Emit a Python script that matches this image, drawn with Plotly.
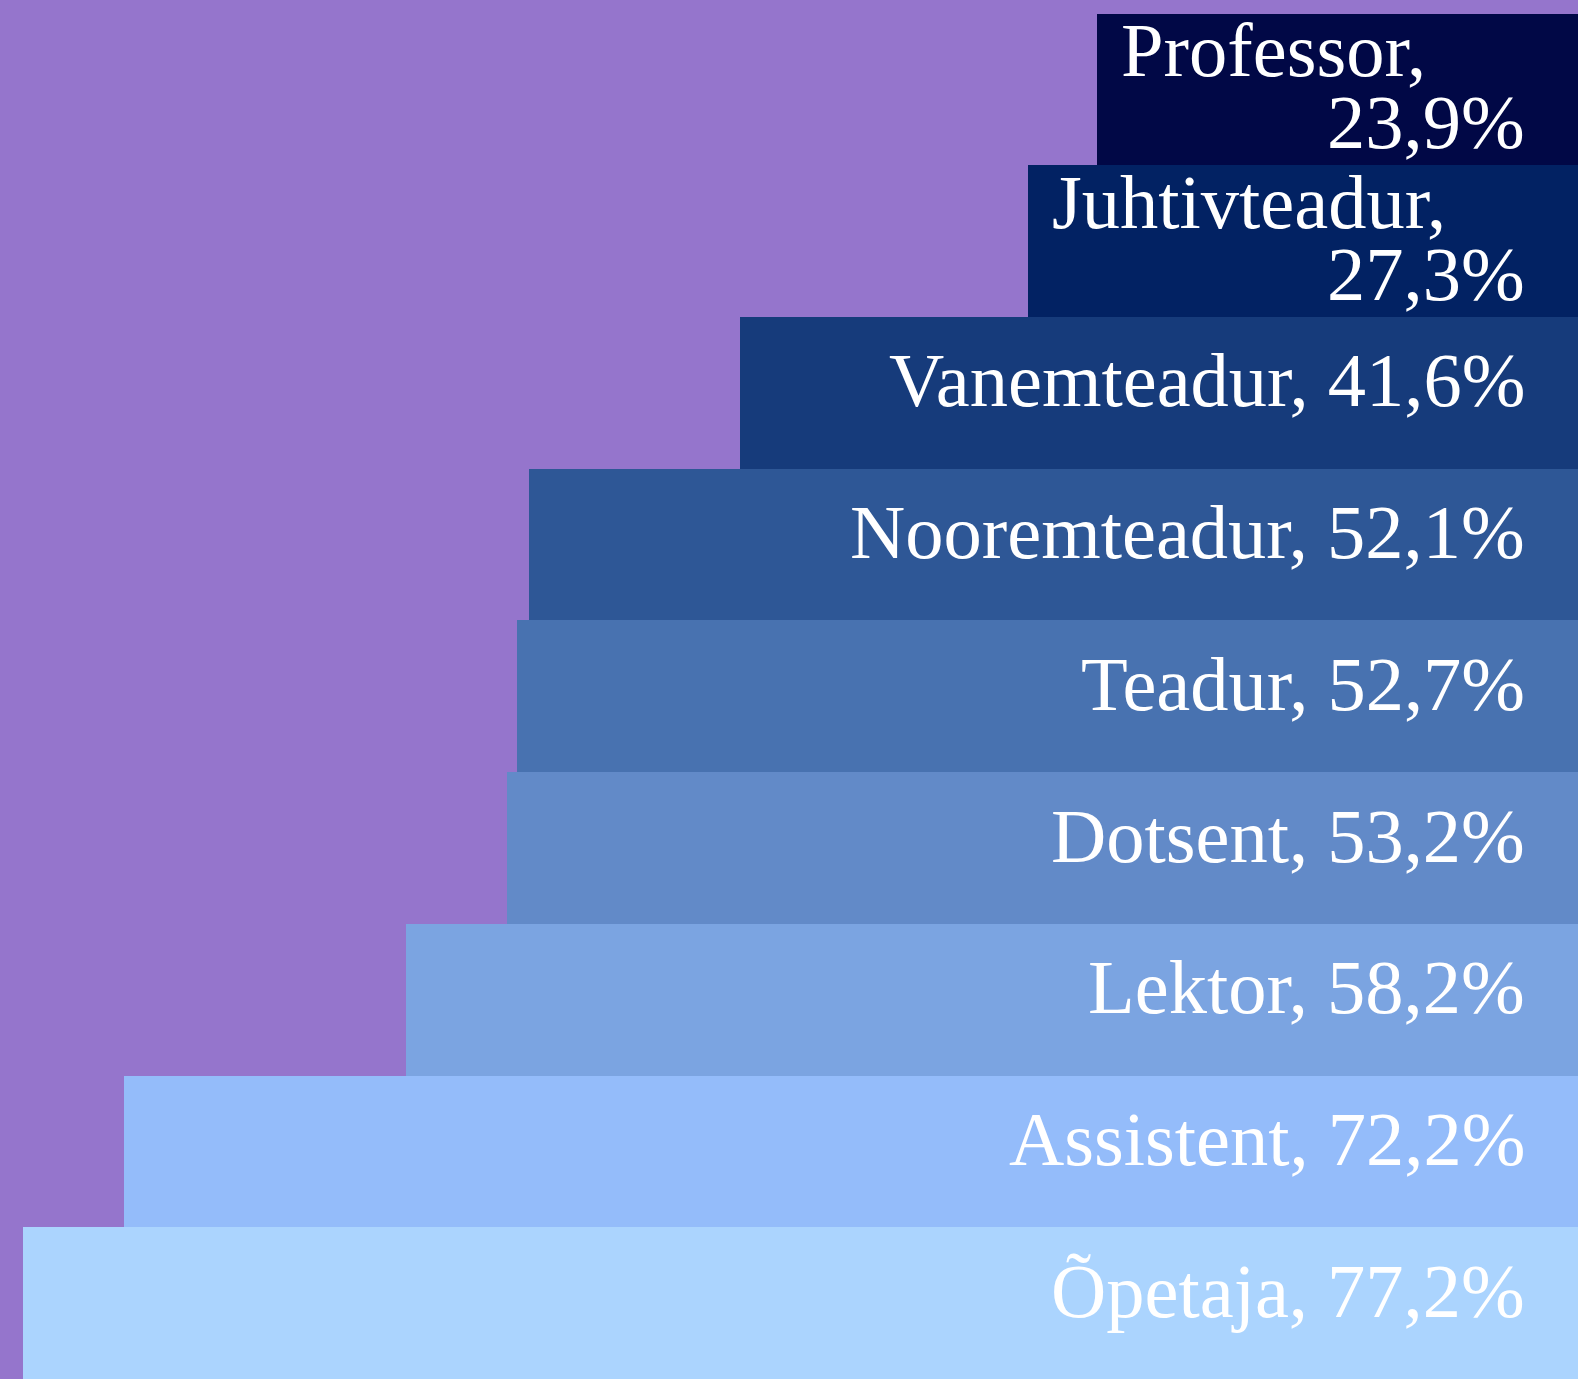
import plotly.graph_objects as go

categories = ["Professor", "Juhtivteadur", "Vanemteadur", "Nooremteadur", "Teadur",
              "Dotsent", "Lektor", "Assistent", "Õpetaja"]
values = [23.9, 27.3, 41.6, 52.1, 52.7, 53.2, 58.2, 72.2, 77.2]
colors = ["#010846", "#022263", "#163b7b", "#2e5796", "#4872b0",
          "#628ac8", "#7ba4e1", "#94bcfa", "#abd4fe"]
BG = "#9575cc"
FONT = dict(family="Liberation Serif", size=76.5, color="white")


def fmt(v):
    return f"{v:.1f}".replace(".", ",") + "%"


fig = go.Figure(go.Bar(
    x=values, y=categories, orientation="h",
    marker=dict(color=colors, line=dict(width=0)),
    hoverinfo="skip",
))

annotations = []
for cat, v in zip(categories, values):
    if v < 35:
        annotations.append(dict(x=v, y=cat, xref="x", yref="y", text=cat + ",",
                                showarrow=False, xanchor="left", yanchor="middle",
                                xshift=22, yshift=39, font=FONT))
        annotations.append(dict(x=0, y=cat, xref="x", yref="y", text=fmt(v),
                                showarrow=False, xanchor="right", yanchor="middle",
                                xshift=-51, yshift=-33, font=FONT))
    else:
        annotations.append(dict(x=0, y=cat, xref="x", yref="y", text=f"{cat}, {fmt(v)}",
                                showarrow=False, xanchor="right", yanchor="middle",
                                xshift=-51, yshift=12, font=FONT))

fig.update_layout(
    width=1578, height=1379,
    margin=dict(l=0, r=0, t=12, b=0),
    paper_bgcolor=BG, plot_bgcolor=BG,
    bargap=0, showlegend=False,
    xaxis=dict(range=[78.35, 0], visible=False, fixedrange=True),
    yaxis=dict(autorange="reversed", visible=False, fixedrange=True),
    annotations=annotations,
)

fig.write_html("out.html", config={"displayModeBar": False},
               post_script="document.body.style.margin='0px';document.body.style.background='%s';" % BG)
